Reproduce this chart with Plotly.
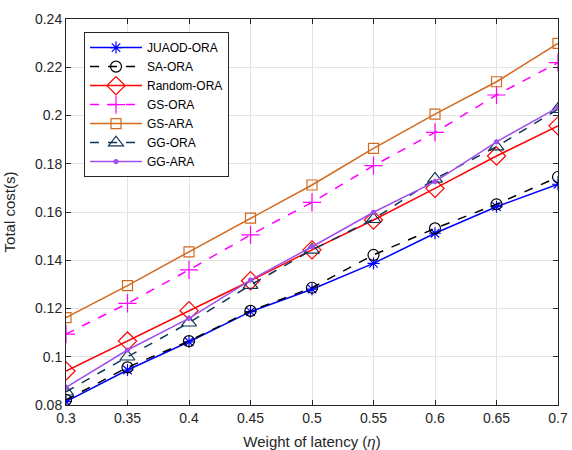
import plotly.graph_objects as go

eta = [0.3, 0.35, 0.4, 0.45, 0.5, 0.55, 0.6, 0.65, 0.7]

juaod_ora = [0.0814, 0.0945, 0.1062, 0.1187, 0.1280, 0.1387, 0.1512, 0.1622, 0.1715]
sa_ora = [0.0821, 0.0956, 0.1065, 0.1190, 0.1286, 0.1422, 0.1532, 0.1632, 0.1745]
random_ora = [0.0941, 0.1065, 0.1191, 0.1315, 0.1443, 0.1567, 0.1698, 0.1832, 0.1957]
gs_ora = [0.1094, 0.1221, 0.1360, 0.1505, 0.1640, 0.1792, 0.1930, 0.2085, 0.2219]
gs_ara = [0.1162, 0.1295, 0.1435, 0.1575, 0.1712, 0.1864, 0.2006, 0.2140, 0.2299]
gg_ora = [0.0855, 0.1000, 0.1141, 0.1297, 0.1443, 0.1570, 0.1737, 0.1871, 0.2026]
gg_ara = [0.0873, 0.1028, 0.1159, 0.1318, 0.1456, 0.1599, 0.1726, 0.1891, 0.2034]

series = [
    ("JUAOD-ORA", juaod_ora, "#0000FF", "solid", "asterisk-open", 10),
    ("SA-ORA", sa_ora, "#000000", "dash", "circle-open", 11),
    ("Random-ORA", random_ora, "#FF0000", "solid", "diamond-open", 14),
    ("GS-ORA", gs_ora, "#FF00FF", "dash", "cross-thin-open", 13),
    ("GS-ARA", gs_ara, "#D2691E", "solid", "square-open", 10),
    ("GG-ORA", gg_ora, "#0F3557", "dash", "triangle-up-open", 13),
    ("GG-ARA", gg_ara, "#A14FF0", "solid", "circle", 4),
]

fig = go.Figure()
for name, vals, color, dash, sym, size in series:
    fig.add_trace(go.Scatter(
        x=eta, y=vals, name=name, mode="lines+markers",
        line=dict(color=color, width=1.5, dash=dash),
        marker=dict(symbol=sym, size=size, color=color,
                    line=dict(color=color, width=1.2)),
    ))

axis_common = dict(
    showline=True, linecolor="#262626", linewidth=1, mirror="allticks",
    ticks="inside", ticklen=5, tickcolor="#262626",
    showgrid=True, gridcolor="#E3E3E3", gridwidth=1, zeroline=False,
    tickfont=dict(size=14, color="#262626"), automargin=False,
)

fig.update_xaxes(range=[0.3, 0.7], tickvals=eta,
                 ticktext=[f"{v:g}" for v in eta],
                 title=dict(text="Weight of latency (<i>η</i>)", font=dict(size=15, color="#262626")),
                 **axis_common)
fig.update_yaxes(range=[0.08, 0.24], dtick=0.02, tickformat="~g",
                 title=dict(text="Total cost(s)", font=dict(size=15, color="#262626")),
                 **axis_common)

fig.update_layout(
    width=572, height=450,
    margin=dict(l=66, r=14, t=19, b=45, autoexpand=False),
    paper_bgcolor="white", plot_bgcolor="white",
    font=dict(family="Liberation Sans, Arial, sans-serif", color="#262626"),
    legend=dict(x=0.0366, y=0.966, xanchor="left", yanchor="top",
                bgcolor="white", bordercolor="#262626", borderwidth=1,
                font=dict(size=12, color="#000000"), itemwidth=52,
                tracegroupgap=0),
    showlegend=True,
)

fig.write_html("out.html", config={"displayModeBar": False},
               post_script="document.body.style.margin='0';document.body.style.overflow='hidden';")
